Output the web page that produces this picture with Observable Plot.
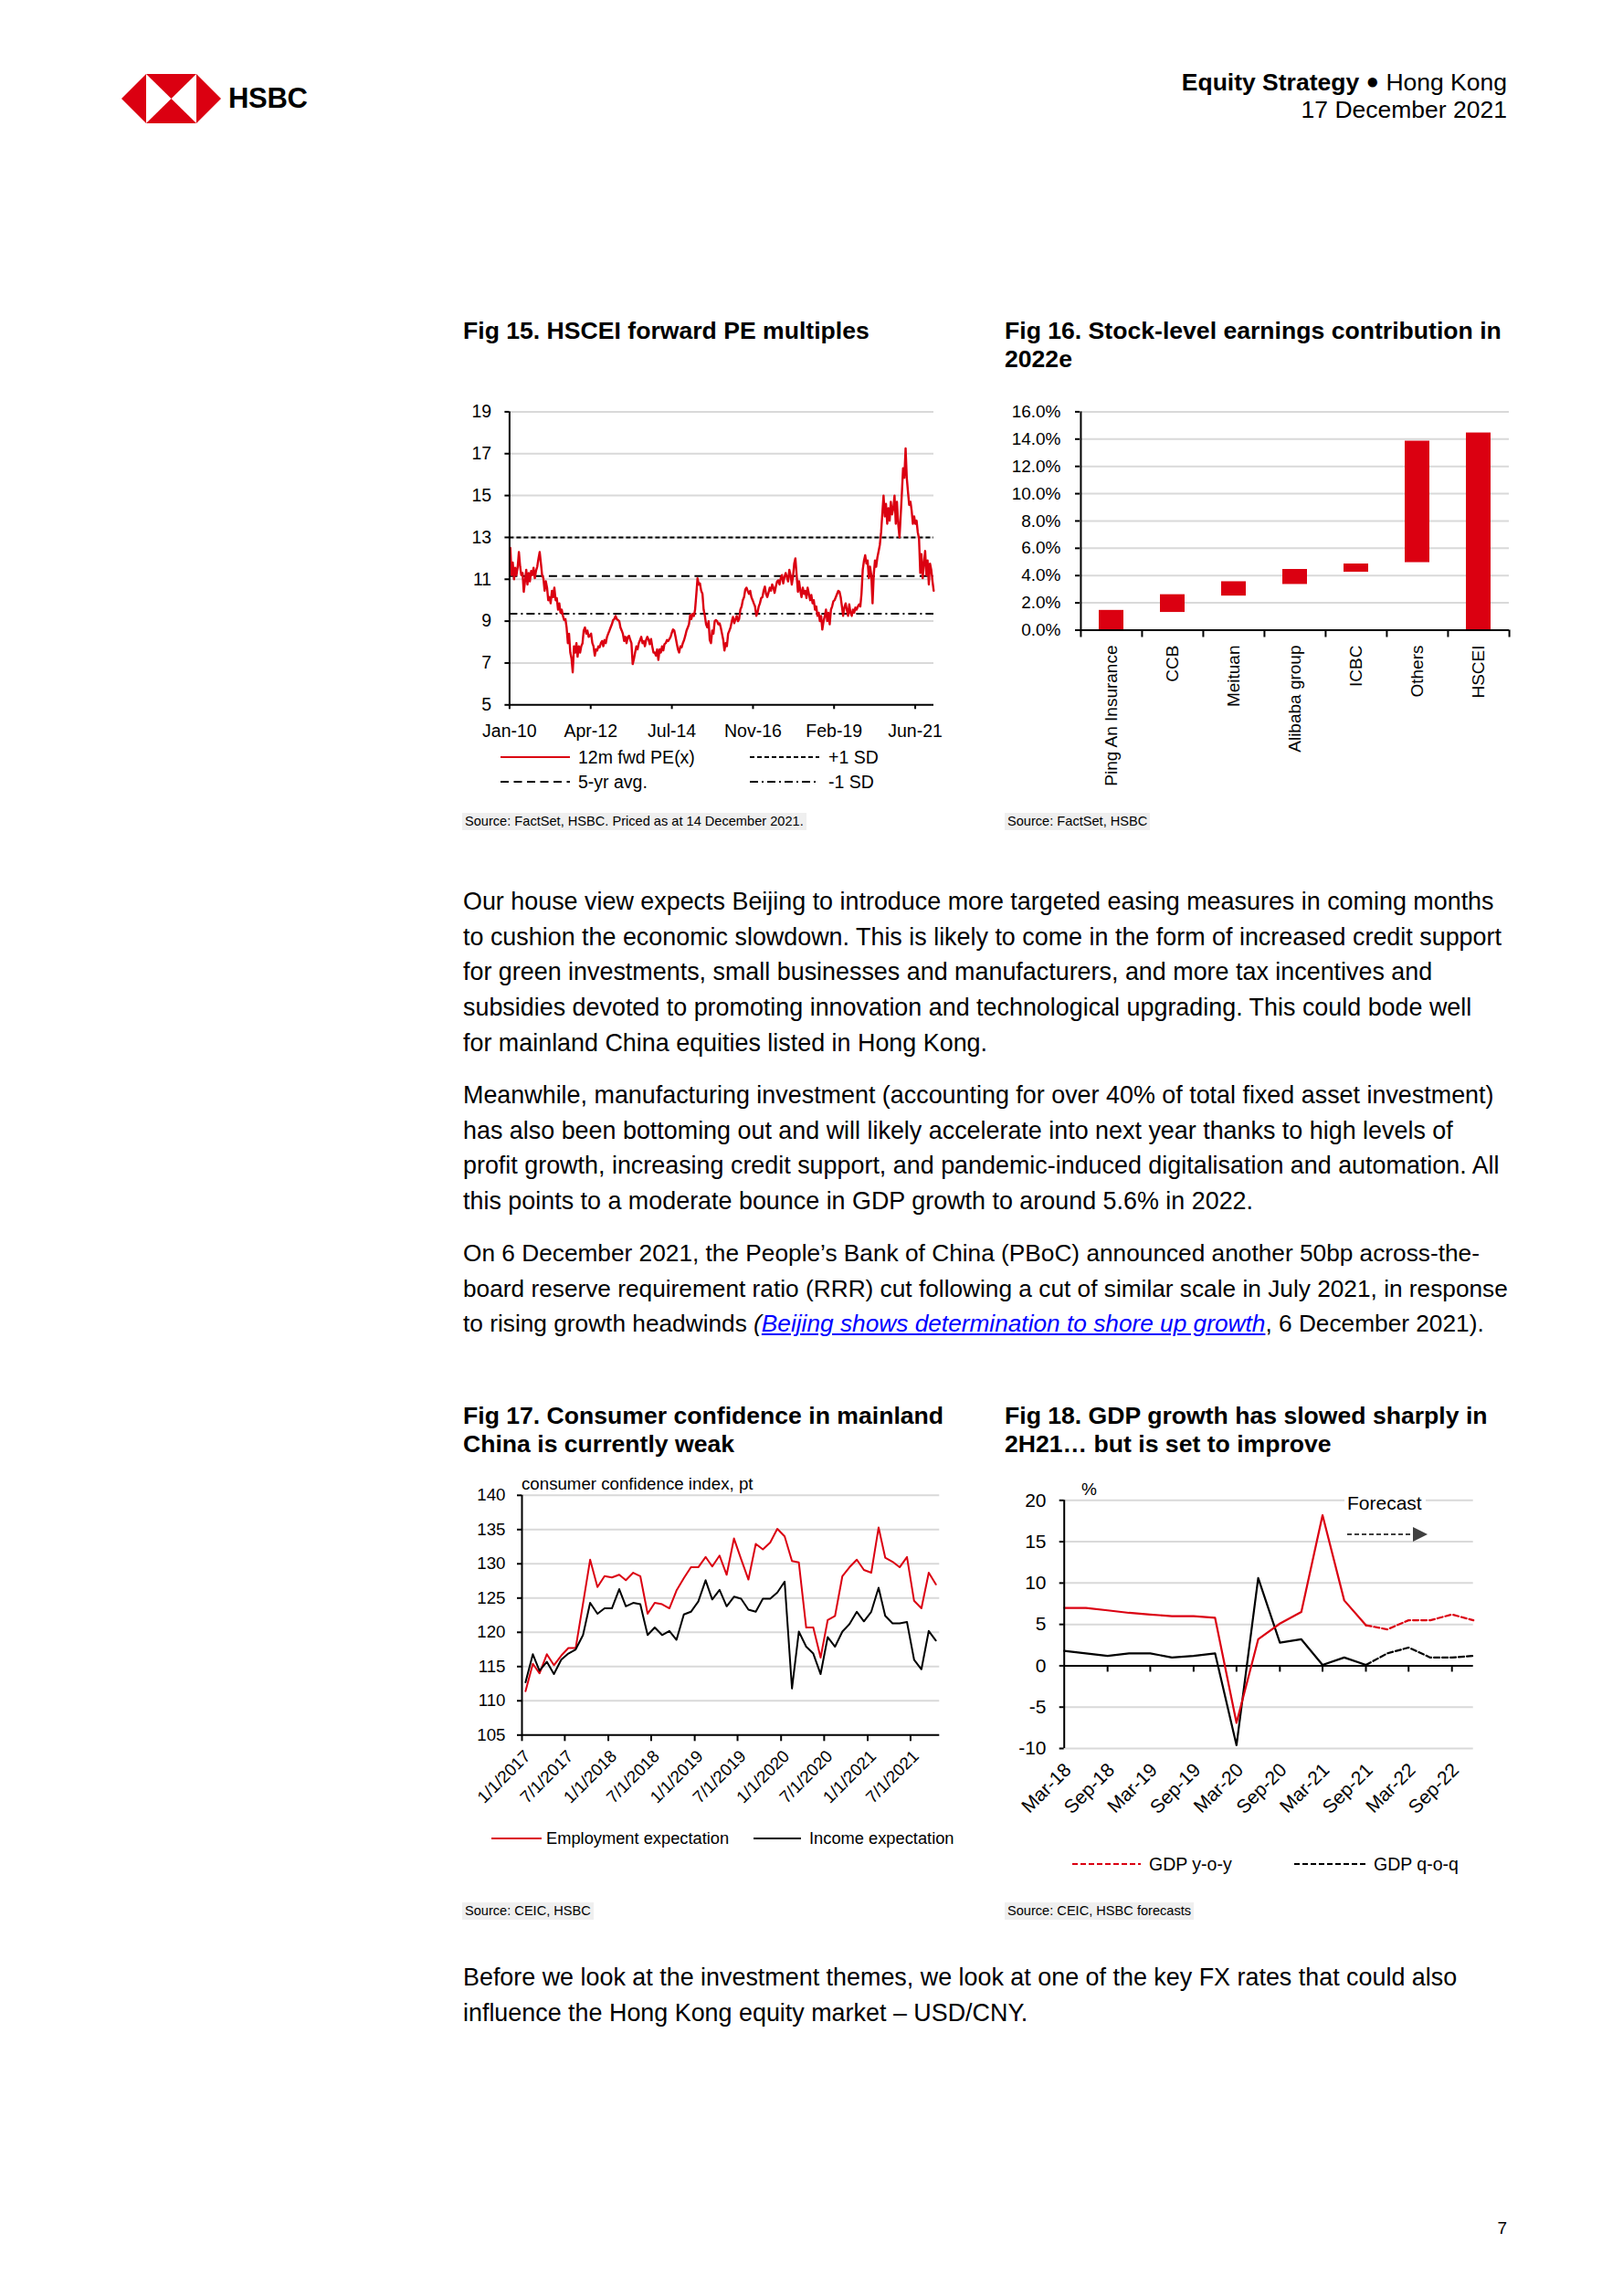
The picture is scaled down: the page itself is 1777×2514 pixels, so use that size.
<!DOCTYPE html>
<html><head><meta charset="utf-8">
<script src="https://cdn.jsdelivr.net/npm/d3@7"></script>
<script src="https://cdn.jsdelivr.net/npm/@observablehq/plot@0.6"></script>
<style>
html,body{margin:0;padding:0;background:#fff;}
body{width:1777px;height:2514px;position:relative;overflow:hidden;font-family:"Liberation Sans",Arial,Helvetica,sans-serif;color:#000;}
.abs{position:absolute;white-space:nowrap;z-index:2;}
.title{font-weight:bold;font-size:26.6px;line-height:30.5px;}
.body{font-size:26.9px;line-height:38.7px;}
.src{font-size:14.6px;line-height:19px;background:#efefef;padding:0 3px;}
.leg{font-size:19.5px;line-height:24px;}
.hdr{font-size:26.5px;line-height:30px;text-align:right;}
a.lnk{color:#0000ff;font-style:italic;text-decoration:underline;}
</style></head><body>

<!-- header -->
<svg class="abs" style="left:133px;top:81px" width="109" height="54" viewBox="0 0 109 54">
  <polygon points="0,27 27,0 27,54" fill="#db0011"/>
  <polygon points="82,0 109,27 82,54" fill="#db0011"/>
  <polygon points="27,0 82,0 54.5,27" fill="#db0011"/>
  <polygon points="27,54 82,54 54.5,27" fill="#db0011"/>
</svg>
<div class="abs" style="left:250px;top:90px;font-size:31px;line-height:36px;font-weight:bold;letter-spacing:-0.3px">HSBC</div>
<div class="abs hdr" style="right:127px;top:75px"><b>Equity Strategy</b> <span style="font-size:24px;position:relative;top:-2px">●</span> Hong Kong</div>
<div class="abs hdr" style="right:127px;top:105px">17 December 2021</div>

<!-- figure titles -->
<div class="abs title" style="left:507px;top:347px">Fig 15. HSCEI forward PE multiples</div>
<div class="abs title" style="left:1100px;top:347px">Fig 16. Stock-level earnings contribution in<br>2022e</div>
<div class="abs title" style="left:507px;top:1535px">Fig 17. Consumer confidence in mainland<br>China is currently weak</div>
<div class="abs title" style="left:1100px;top:1535px">Fig 18. GDP growth has slowed sharply in<br>2H21… but is set to improve</div>

<!-- legends fig 15 -->
<svg class="abs" style="left:548px;top:817px" width="76" height="24"><line x1="0" y1="12" x2="76" y2="12" stroke="#db0011" stroke-width="2"/></svg>
<div class="abs leg" style="left:633px;top:817px">12m fwd PE(x)</div>
<svg class="abs" style="left:821px;top:817px" width="76" height="24"><line x1="0" y1="12" x2="76" y2="12" stroke="#000" stroke-width="2" stroke-dasharray="5,3"/></svg>
<div class="abs leg" style="left:907px;top:817px">+1 SD</div>
<svg class="abs" style="left:548px;top:844px" width="76" height="24"><line x1="0" y1="12" x2="76" y2="12" stroke="#000" stroke-width="2" stroke-dasharray="9,5.5"/></svg>
<div class="abs leg" style="left:633px;top:844px">5-yr avg.</div>
<svg class="abs" style="left:821px;top:844px" width="76" height="24"><line x1="0" y1="12" x2="76" y2="12" stroke="#000" stroke-width="2" stroke-dasharray="9,4,2,4"/></svg>
<div class="abs leg" style="left:907px;top:844px">-1 SD</div>

<!-- legends fig 17 -->
<div class="abs leg" style="left:571px;top:1614px;font-size:18.7px;line-height:22px">consumer confidence index, pt</div>
<svg class="abs" style="left:538px;top:2001px" width="55" height="24"><line x1="0" y1="12" x2="55" y2="12" stroke="#db0011" stroke-width="2"/></svg>
<div class="abs leg" style="left:598px;top:2001px;font-size:18.3px">Employment expectation</div>
<svg class="abs" style="left:825px;top:2001px" width="52" height="24"><line x1="0" y1="12" x2="52" y2="12" stroke="#000" stroke-width="2"/></svg>
<div class="abs leg" style="left:886px;top:2001px;font-size:18.3px">Income expectation</div>

<!-- legends / annotation fig 18 -->
<div class="abs leg" style="left:1184px;top:1619px;font-size:19px">%</div>
<div class="abs leg" style="left:1472px;top:1633px;font-size:21px;line-height:26px;background:#fff;padding:0 4px 0 3px">Forecast</div>
<svg class="abs" style="left:1475px;top:1670px" width="90" height="20">
  <line x1="0" y1="10" x2="72" y2="10" stroke="#404040" stroke-width="2" stroke-dasharray="5,3"/>
  <polygon points="72,2 88,10 72,18" fill="#404040"/>
</svg>
<svg class="abs" style="left:1174px;top:2029px" width="75" height="24"><line x1="0" y1="12" x2="75" y2="12" stroke="#db0011" stroke-width="2" stroke-dasharray="6,3"/></svg>
<div class="abs leg" style="left:1258px;top:2029px">GDP y-o-y</div>
<svg class="abs" style="left:1417px;top:2029px" width="78" height="24"><line x1="0" y1="12" x2="78" y2="12" stroke="#000" stroke-width="2" stroke-dasharray="6,3"/></svg>
<div class="abs leg" style="left:1504px;top:2029px">GDP q-o-q</div>

<!-- sources -->
<div class="abs src" style="left:506px;top:890px">Source: FactSet, HSBC. Priced as at 14 December 2021.</div>
<div class="abs src" style="left:1100px;top:890px">Source: FactSet, HSBC</div>
<div class="abs src" style="left:506px;top:2083px">Source: CEIC, HSBC</div>
<div class="abs src" style="left:1100px;top:2083px">Source: CEIC, HSBC forecasts</div>

<!-- body text -->
<div class="abs body" style="left:507px;top:968px">Our house view expects Beijing to introduce more targeted easing measures in coming months<br>to cushion the economic slowdown. This is likely to come in the form of increased credit support<br>for green investments, small businesses and manufacturers, and more tax incentives and<br>subsidies devoted to promoting innovation and technological upgrading. This could bode well<br>for mainland China equities listed in Hong Kong.</div>
<div class="abs body" style="left:507px;top:1180px">Meanwhile, manufacturing investment (accounting for over 40% of total fixed asset investment)<br>has also been bottoming out and will likely accelerate into next year thanks to high levels of<br>profit growth, increasing credit support, and pandemic-induced digitalisation and automation. All<br>this points to a moderate bounce in GDP growth to around 5.6% in 2022.</div>
<div class="abs body" style="left:507px;top:1353px;font-size:26.25px">On 6 December 2021, the People’s Bank of China (PBoC) announced another 50bp across-the-<br>board reserve requirement ratio (RRR) cut following a cut of similar scale in July 2021, in response<br>to rising growth headwinds <i>(</i><a class="lnk">Beijing shows determination to shore up growth</a>, 6 December 2021).</div>
<div class="abs body" style="left:507px;top:2146px">Before we look at the investment themes, we look at one of the key FX rates that could also<br>influence the Hong Kong equity market – USD/CNY.</div>
<div class="abs" style="right:127px;top:2428px;font-size:19px;line-height:24px">7</div>

<script>
// ---------------- DATA ----------------
// Fig 15: HSCEI 12m forward PE, sampled roughly every 12.6 days from Jan 2010 to Dec 2021
const peStartDate = "2010-01-09";
const peStepDays = 12.59;
const peValues = [
12.5,11.2,11.8,11.0,11.55,11.2,11.6,12.3,11.6,11.2,11.3,10.4,10.9,11.45,10.75,11.3,10.9,11.4,11.2,11.55,
11.05,11.4,11.6,12.0,12.3,11.75,11.2,11.05,10.45,10.9,10.6,10.0,10.15,9.85,10.45,10.15,10.6,10.0,10.1,9.55,
9.85,9.4,9.55,9.25,9.05,9.1,8.7,7.95,8.4,7.5,7.2,6.55,7.8,7.5,7.95,7.3,7.8,7.5,7.8,7.95,
8.55,8.7,8.4,8.55,8.25,8.3,8.4,7.95,7.8,7.35,7.65,7.6,7.8,7.75,7.95,8.05,7.8,8.1,7.95,8.25,
8.4,8.55,8.7,8.85,9.05,9.1,9.25,9.1,9.05,9.0,8.7,8.55,8.4,8.05,8.25,7.95,8.25,8.3,8.1,7.95,
6.95,7.2,7.5,7.8,7.65,7.95,8.1,8.25,7.95,8.05,7.8,8.1,8.25,8.1,7.9,8.15,7.8,7.5,
7.5,7.35,7.65,7.15,7.65,7.5,7.8,7.6,7.9,7.95,8.1,8.05,8.15,8.25,8.45,8.6,8.55,8.25,7.95,7.65,
7.5,7.8,7.75,7.95,8.1,8.3,8.55,8.7,8.85,9.3,9.1,9.35,9.25,9.55,10.3,11.05,10.75,10.8,10.45,10.3,
9.55,9.25,8.85,8.7,9.0,8.1,7.95,8.55,8.4,9.0,9.05,9.0,8.85,8.9,8.7,8.4,8.1,7.6,7.95,7.8,
8.4,8.55,8.7,9.0,9.2,8.9,9.1,9.25,9.0,9.1,9.55,9.7,10.0,10.15,10.5,10.6,10.45,10.3,10.45,10.15,
10.0,9.85,9.7,9.25,9.4,9.7,9.85,10.1,10.15,10.45,10.65,10.3,10.15,10.35,10.6,10.45,10.75,10.6,10.35,10.65,
10.9,10.95,10.75,11.05,11.2,10.8,11.1,11.3,11.1,10.9,11.45,11.2,10.75,11.1,11.75,12.0,11.2,10.4,
10.9,10.45,10.15,10.6,10.3,10.45,10.1,10.6,10.3,10.0,10.25,9.85,10.0,9.55,9.7,9.25,9.4,9.0,9.25,8.6,
9.0,9.25,9.55,9.0,9.4,8.85,9.55,9.7,9.95,10.0,10.15,10.3,10.45,10.4,10.15,9.7,9.25,9.65,9.85,9.55,
9.25,9.8,9.4,9.25,9.55,9.4,9.65,9.55,9.7,9.8,9.7,10.3,11.45,11.9,12.15,11.75,11.9,11.05,11.6,11.2,
9.85,11.2,11.9,11.6,12.05,12.35,12.65,13.25,14.1,15.0,14.0,14.6,13.65,14.4,13.8,14.7,14.1,14.4,15.0,13.65,
14.7,13.65,13.0,14.0,15.15,16.3,15.85,17.25,15.85,15.15,14.55,14.7,14.25,13.65,14.0,13.65,13.8,13.25,12.95,11.3,
12.2,11.05,11.75,12.35,11.2,11.9,10.75,11.75,11.45,10.9,10.45
];
const peBandNames = ["+1 SD", "5-yr avg.", "-1 SD"];
const peBandLevels = [13.0, 11.15, 9.35];
const peDomain = ["2010-01-01", "2021-12-15"];
const peXTicks = ["2010-01-01", "2012-04-15", "2014-07-29", "2016-11-10", "2019-02-22", "2021-06-06"];
const peYTicks = [5, 7, 9, 11, 13, 15, 17, 19];

// Fig 16: stock-level earnings contribution (waterfall ranges, %)
const contribCategories = ["Ping An Insurance", "CCB", "Meituan", "Alibaba group", "ICBC", "Others", "HSCEI"];
const contribLow  = [0.0, 1.3, 2.5, 3.35, 4.25, 4.95, 0.0];
const contribHigh = [1.45, 2.6, 3.55, 4.45, 4.85, 13.85, 14.45];
const contribYTicks = [0, 2, 4, 6, 8, 10, 12, 14, 16];

// Fig 17: consumer confidence sub-indices (monthly)
const ccMonths = ["2017-01","2017-02","2017-03","2017-04","2017-05","2017-06","2017-07","2017-08","2017-09","2017-10","2017-11","2017-12",
"2018-01","2018-02","2018-03","2018-04","2018-05","2018-06","2018-07","2018-08","2018-09","2018-10","2018-11","2018-12",
"2019-01","2019-02","2019-03","2019-04","2019-05","2019-06","2019-07","2019-08","2019-09","2019-10","2019-11","2019-12",
"2020-01","2020-02","2020-03","2020-04","2020-05","2020-06","2020-07","2020-08","2020-09","2020-10","2020-11","2020-12",
"2021-01","2021-02","2021-03","2021-04","2021-05","2021-06","2021-07","2021-08","2021-09","2021-10"];
const ccEmployment = [111.4,115.4,114.0,116.8,115.2,116.6,117.7,117.7,124.2,130.6,126.6,128.2,128.0,128.4,127.6,128.7,128.2,122.7,124.3,124.1,
123.5,126.1,127.9,129.5,129.5,131.0,129.6,131.2,128.4,133.7,130.7,127.7,132.9,132.1,133.1,135.1,134.0,130.4,130.2,120.7,
120.7,116.3,121.8,122.4,128.2,129.5,130.6,129.1,128.7,135.3,130.9,130.3,129.5,131.0,124.6,123.5,128.7,127.0];
const ccIncome = [112.7,116.8,114.4,115.7,113.9,116.0,116.9,117.5,119.6,124.3,122.7,123.5,123.5,126.3,123.8,124.3,124.1,119.6,120.7,119.6,
120.2,118.9,122.6,123.0,124.5,127.6,124.8,126.2,123.8,125.2,124.9,123.3,123.0,124.9,124.9,125.8,127.4,111.8,120.1,117.9,
116.9,113.9,119.3,117.9,120.1,121.2,123.0,121.6,123.0,126.5,122.4,121.3,121.3,121.5,116.0,114.6,120.2,118.8];
const ccDomain = ["2017-01-01", "2021-11-01"];
const ccXTicks = ["2017-01-01","2017-07-01","2018-01-01","2018-07-01","2019-01-01","2019-07-01","2020-01-01","2020-07-01","2021-01-01","2021-07-01"];
const ccYTicks = [105, 110, 115, 120, 125, 130, 135, 140];

// Fig 18: GDP growth (quarterly, %), forecasts from Sep-21 onward
const gdpQuarters = ["Mar-18","Jun-18","Sep-18","Dec-18","Mar-19","Jun-19","Sep-19","Dec-19","Mar-20","Jun-20",
"Sep-20","Dec-20","Mar-21","Jun-21","Sep-21","Dec-21","Mar-22","Jun-22","Sep-22","Dec-22"];
const gdpYoy = [7.0,7.0,6.7,6.4,6.2,6.0,6.0,5.8,-6.9,3.2,5.1,6.5,18.2,7.9,4.9,4.4,5.5,5.5,6.2,5.5];
const gdpQoq = [1.8,1.5,1.2,1.5,1.5,1.0,1.2,1.5,-9.6,10.6,2.8,3.2,0.1,1.0,0.1,1.5,2.2,1.0,1.0,1.2];
const gdpLastActual = "Sep-21";
const gdpXTicks = ["Mar-18","Sep-18","Mar-19","Sep-19","Mar-20","Sep-20","Mar-21","Sep-21","Mar-22","Sep-22"];
const gdpYTicks = [-10, -5, 0, 5, 10, 15, 20];

// ---------------- DRAWING ----------------
const RED = "#db0011";
const GRID = "#d9d9d9";
const FONT = "'Liberation Sans', Arial, Helvetica, sans-serif";
function styleFor(size) {
  return {fontFamily: FONT, fontSize: size + "px", background: "transparent", overflow: "visible", maxWidth: "none", color: "#000"};
}
function place(svg, left, top) {
  svg.style.position = "absolute";
  svg.style.left = left + "px";
  svg.style.top = top + "px";
  svg.style.zIndex = "1";
  document.body.appendChild(svg);
}
const D = s => new Date(s);

// Fig 15
{
  const data = peValues.map((v, i) => ({date: d3.utcDay.offset(D(peStartDate), Math.round(i * peStepDays)), value: v}));
  const dashes = ["5,3", "9,5.5", "9,4,2,4"];
  const svg = Plot.plot({
    width: 570, height: 400,
    marginLeft: 77.4, marginRight: 28, marginTop: 20.4, marginBottom: 58.7,
    style: styleFor(19.5),
    x: {type: "utc", domain: peDomain.map(D)},
    y: {domain: [5, 19]},
    marks: [
      Plot.gridY({ticks: peYTicks.filter(d => d > 5), stroke: GRID, strokeOpacity: 1, strokeWidth: 2}),
      ...peBandLevels.map((lv, i) => Plot.ruleY([lv], {stroke: "#000", strokeWidth: 2, strokeDasharray: dashes[i]})),
      Plot.line(data, {x: "date", y: "value", stroke: RED, strokeWidth: 2.4}),
      Plot.ruleX([D(peDomain[0])], {stroke: "#000", strokeWidth: 2}),
      Plot.ruleY([5], {stroke: "#000", strokeWidth: 2}),
      Plot.axisY({ticks: peYTicks, tickSize: 5, tickPadding: 14.7, strokeWidth: 2, label: null, tickFormat: d => String(d)}),
      Plot.axisX({ticks: peXTicks.map(D), tickSize: 5, tickPadding: 16.7, strokeWidth: 2, label: null, tickFormat: d3.utcFormat("%b-%y")})
    ]
  });
  place(svg, 480, 430);
}

// Fig 16
{
  const data = contribCategories.map((c, i) => ({cat: c, low: contribLow[i], high: contribHigh[i]}));
  const W = 580, ML = 92, MR = 18;
  const step = (W - ML - MR) / contribCategories.length;
  const MT = 20.4, MB = 190.5, H = 450;
  const plotH = H - MT - MB;
  const svg = Plot.plot({
    width: W, height: H,
    marginLeft: ML, marginRight: MR, marginTop: MT, marginBottom: MB,
    style: styleFor(19),
    x: {type: "band", domain: contribCategories, paddingInner: 0.6, paddingOuter: 0.3},
    y: {domain: [0, 16]},
    marks: [
      Plot.gridY({ticks: contribYTicks.filter(d => d > 0), stroke: GRID, strokeOpacity: 1, strokeWidth: 2}),
      Plot.barY(data, {x: "cat", y1: "low", y2: "high", fill: RED}),
      Plot.ruleY([0], {stroke: "#000", strokeWidth: 2}),
      Plot.ruleX([contribCategories[0]], {dx: -step / 2, stroke: "#000", strokeWidth: 2}),
      Plot.ruleX(contribCategories.slice(1), {dx: -step / 2, insetTop: plotH, insetBottom: -8, stroke: "#000", strokeWidth: 2}),
      Plot.ruleX([contribCategories[contribCategories.length - 1]], {dx: step / 2, insetTop: plotH, insetBottom: -8, stroke: "#000", strokeWidth: 2}),
      Plot.ruleX([contribCategories[0]], {dx: -step / 2, insetTop: plotH, insetBottom: -8, stroke: "#000", strokeWidth: 2}),
      Plot.axisY({ticks: contribYTicks, tickSize: 5, tickPadding: 16, strokeWidth: 2, label: null, tickFormat: d => d.toFixed(1) + "%"}),
      Plot.axisX({tickSize: 0, tickPadding: 16.5, tickRotate: -90, textAnchor: "end", lineAnchor: "middle", label: null})
    ]
  });
  place(svg, 1090, 430);
}

// Fig 17
{
  const mid = s => d3.utcDay.offset(D(s + "-01"), 15);
  const emp = ccMonths.map((m, i) => ({date: mid(m), value: ccEmployment[i]}));
  const inc = ccMonths.map((m, i) => ({date: mid(m), value: ccIncome[i]}));
  const fmt = d => `${d.getUTCMonth() + 1}/${d.getUTCDate()}/${d.getUTCFullYear()}`;
  const svg = Plot.plot({
    width: 570, height: 370,
    marginLeft: 91, marginRight: 21.7, marginTop: 36.8, marginBottom: 70.7,
    style: styleFor(18.7),
    x: {type: "utc", domain: ccDomain.map(D)},
    y: {domain: [105, 140]},
    marks: [
      Plot.gridY({ticks: ccYTicks.filter(d => d > 105), stroke: GRID, strokeOpacity: 1, strokeWidth: 2}),
      Plot.line(emp, {x: "date", y: "value", stroke: RED, strokeWidth: 2}),
      Plot.line(inc, {x: "date", y: "value", stroke: "#000", strokeWidth: 2}),
      Plot.ruleX([D(ccDomain[0])], {stroke: "#000", strokeWidth: 2}),
      Plot.ruleY([105], {stroke: "#000", strokeWidth: 2}),
      Plot.ruleX(ccXTicks.map(D), {y1: 105, y2: 105, insetBottom: -7, stroke: "#000", strokeWidth: 2}),
      Plot.axisY({ticks: ccYTicks, tickSize: 5, tickPadding: 13, strokeWidth: 2, label: null, tickFormat: d => String(d)}),
      Plot.axisX({ticks: ccXTicks.map(D), tickSize: 0, tickPadding: 20, tickRotate: -45, textAnchor: "end", lineAnchor: "middle", dx: 6, label: null, tickFormat: fmt})
    ]
  });
  place(svg, 480, 1600);
}

// Fig 18
{
  const parseQ = d3.utcParse("%b-%y");
  const last = parseQ(gdpLastActual);
  const yoy = gdpQuarters.map((q, i) => ({date: parseQ(q), value: gdpYoy[i]}));
  const qoq = gdpQuarters.map((q, i) => ({date: parseQ(q), value: gdpQoq[i]}));
  const dom = [parseQ(gdpQuarters[0]), parseQ(gdpQuarters[gdpQuarters.length - 1])];
  const tickDates = gdpXTicks.map(parseQ);
  const svg = Plot.plot({
    width: 560, height: 380,
    marginLeft: 74.7, marginRight: 37.3, marginTop: 42.3, marginBottom: 66,
    style: styleFor(21),
    x: {type: "utc", domain: dom},
    y: {domain: [-10, 20]},
    marks: [
      Plot.gridY({ticks: gdpYTicks.filter(d => d !== 0), stroke: GRID, strokeOpacity: 1, strokeWidth: 2}),
      Plot.ruleY([0], {stroke: "#000", strokeWidth: 2}),
      Plot.ruleX(tickDates.slice(1), {y1: 0, y2: 0, insetBottom: -7, stroke: "#000", strokeWidth: 2}),
      Plot.line(qoq.filter(d => d.date <= last), {x: "date", y: "value", stroke: "#000", strokeWidth: 2.2}),
      Plot.line(qoq.filter(d => d.date >= last), {x: "date", y: "value", stroke: "#000", strokeWidth: 2.2, strokeDasharray: "6,3"}),
      Plot.line(yoy.filter(d => d.date <= last), {x: "date", y: "value", stroke: RED, strokeWidth: 2.2}),
      Plot.line(yoy.filter(d => d.date >= last), {x: "date", y: "value", stroke: RED, strokeWidth: 2.2, strokeDasharray: "6,3"}),
      Plot.ruleX([dom[0]], {stroke: "#000", strokeWidth: 2}),
      Plot.axisY({ticks: gdpYTicks, tickSize: 5, tickPadding: 14.7, strokeWidth: 2, label: null, tickFormat: d => String(d)}),
      Plot.axisX({ticks: tickDates, tickSize: 0, tickPadding: 20, tickRotate: -45, textAnchor: "end", lineAnchor: "middle", dx: 4, label: null, tickFormat: d3.utcFormat("%b-%y")})
    ]
  });
  place(svg, 1090, 1600);
}
</script>
</body></html>
